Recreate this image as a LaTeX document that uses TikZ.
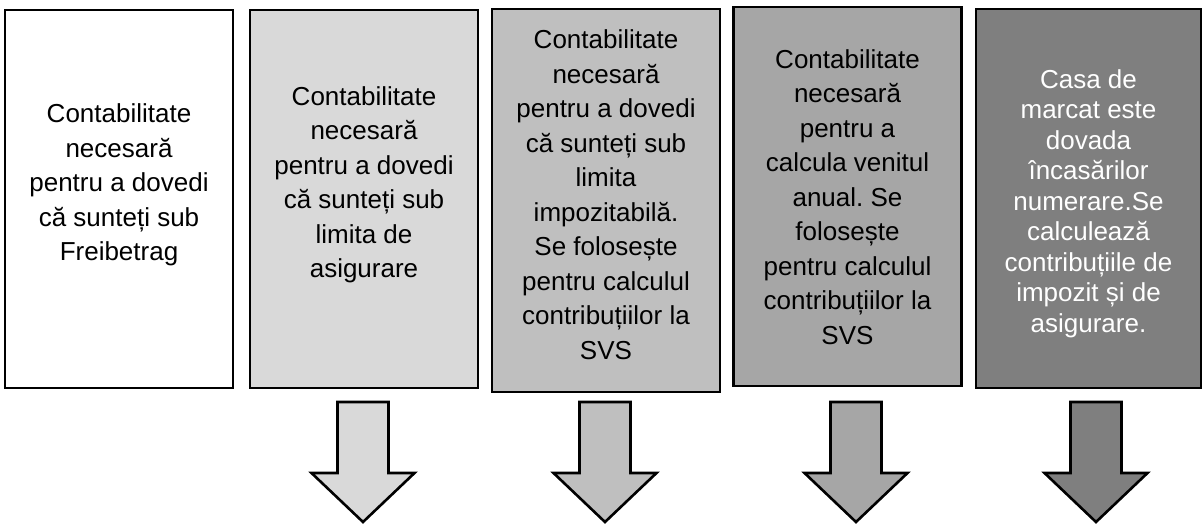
\documentclass[tikz,border=0pt]{standalone}
\usepackage{fontspec}
\setmainfont{Liberation Sans}
\frenchspacing

\definecolor{grayLight}{HTML}{D9D9D9}
\definecolor{grayMid}{HTML}{BFBFBF}
\definecolor{grayDark}{HTML}{A6A6A6}
\definecolor{grayDeep}{HTML}{7F7F7F}

\tikzset{
  panel/.style={draw=black, line width=2.6pt, minimum width=228pt, inner sep=0pt},
  panelText/.style={align=center, inner sep=0pt, anchor=north,
    font=\fontsize{26}{34.5}\selectfont},
  blockArrow/.style={draw=black, line width=2.6pt, line join=miter},
}

\begin{document}
\begin{tikzpicture}[x=1pt,y=-1pt]
\useasboundingbox (0,0) rectangle (1203,525);

\node[panel, fill=white, minimum height=378pt] (box1) at (119,199) {};
\node[panel, fill=grayLight, minimum height=378pt] (box2) at (364,199) {};
\node[panel, fill=grayMid, minimum height=383pt] (box3) at (606,200.5) {};
\node[panel, fill=grayDark, minimum height=379pt] (box4) at (847.5,196.5) {};
\node[panel, fill=grayDeep, minimum height=379pt, minimum width=225pt] (box5) at (1088.5,198.5) {};

\node[panelText] (text1) at (119,103.5)
  {Contabilitate\\necesară\\pentru a dovedi\\că sunteți sub\\Freibetrag};
\node[panelText] (text2) at (364,86)
  {Contabilitate\\necesară\\pentru a dovedi\\că sunteți sub\\limita de\\asigurare};
\node[panelText] (text3) at (606,29.5)
  {Contabilitate\\necesară\\pentru a dovedi\\că sunteți sub\\limita\\impozitabilă.\\Se folosește\\pentru calculul\\contribuțiilor la\\SVS};
\node[panelText] (text4) at (847.5,49)
  {Contabilitate\\necesară\\pentru a\\calcula venitul\\anual. Se\\folosește\\pentru calculul\\contribuțiilor la\\SVS};
\node[panelText, text=white, font=\fontsize{26}{30.5}\selectfont] (text5) at (1088.5,69)
  {Casa de\\marcat este\\dovada\\încasărilor\\numerare.Se\\calculează\\contribuțiile de\\impozit și de\\asigurare.};

% arrows under the shaded panels
\coordinate (arrowTop2) at (363,402);
\coordinate (arrowTop3) at (605,402);
\coordinate (arrowTop4) at (856,402);
\coordinate (arrowTop5) at (1096,402);

\draw[blockArrow, fill=grayLight] (arrowTop2) ++(-25.5,0) -- ++(51,0) -- ++(0,71)
  -- ++(26,0) -- ++(-51.5,49) -- ++(-51.5,-49) -- ++(26,0) -- cycle;
\draw[blockArrow, fill=grayMid] (arrowTop3) ++(-25.5,0) -- ++(51,0) -- ++(0,71)
  -- ++(26,0) -- ++(-51.5,49) -- ++(-51.5,-49) -- ++(26,0) -- cycle;
\draw[blockArrow, fill=grayDark] (arrowTop4) ++(-25.5,0) -- ++(51,0) -- ++(0,71)
  -- ++(26,0) -- ++(-51.5,49) -- ++(-51.5,-49) -- ++(26,0) -- cycle;
\draw[blockArrow, fill=grayDeep] (arrowTop5) ++(-25.5,0) -- ++(51,0) -- ++(0,71)
  -- ++(26,0) -- ++(-51.5,49) -- ++(-51.5,-49) -- ++(26,0) -- cycle;

\end{tikzpicture}
\end{document}
